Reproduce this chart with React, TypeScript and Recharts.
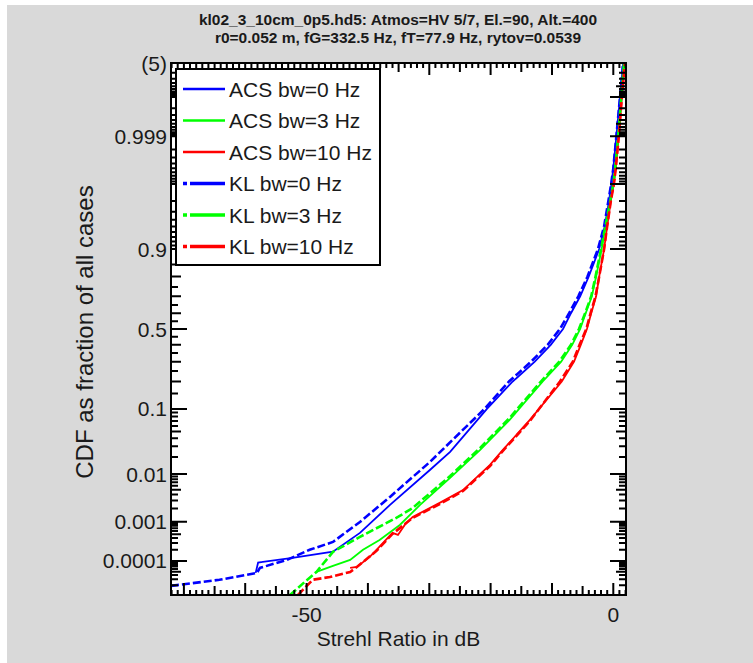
import React from "react";
import { LineChart, Line, XAxis, YAxis } from "recharts";

// Strehl ratio (dB) vs. CDF for every case
const acs0Db = [-58.3, -57.9, -52.3, -45.7, -41.3, -36.4, -29.9, -26.6, -20.6, -16.4, -12.8, -10.2, -8.2, -6.9, -5.4, -4.0, -2.3, -1.4, -0.7, -0.3, 0.0, 0.5, 1.1, 1.6];
const acs0Cdf = [4.6e-5, 9.0e-5, 1.21e-4, 1.78e-4, 5.4e-4, 2.4e-3, 0.0119, 0.0244, 0.1, 0.2, 0.3, 0.4, 0.5, 0.6, 0.7, 0.8, 0.9, 0.95, 0.98, 0.99, 0.995, 0.999, 0.9999, 0.99999];

const acs3Db = [-48.4, -45.7, -42.9, -40.8, -38.1, -34.8, -31.5, -26.6, -21.7, -16.9, -11.5, -8.5, -6.7, -5.4, -4.5, -3.5, -2.8, -1.9, -1.3, -0.5, 0.0, 0.3, 0.8, 1.3, 1.75];
const acs3Cdf = [4.9e-5, 7.3e-5, 1.07e-4, 2.0e-4, 3.6e-4, 8.4e-4, 2.4e-3, 0.0085, 0.0263, 0.0724, 0.2, 0.3, 0.4, 0.5, 0.6, 0.7, 0.8, 0.9, 0.95, 0.98, 0.99, 0.995, 0.999, 0.9999, 0.99999];

const acs10Db = [-42.9, -41.8, -39.7, -38.6, -36.0, -35.1, -34.0, -32.7, -28.3, -24.5, -20.1, -18.0, -13.6, -8.4, -6.4, -5.3, -4.3, -3.6, -2.8, -2.3, -1.5, -1.0, -0.4, 0.1, 0.4, 0.9, 1.4, 1.9];
const acs10Cdf = [6.4e-5, 6.8e-5, 1.29e-4, 2.0e-4, 5.4e-4, 4.8e-4, 8.4e-4, 1.29e-3, 2.65e-3, 4.9e-3, 0.0147, 0.0263, 0.0724, 0.2, 0.3, 0.4, 0.5, 0.6, 0.7, 0.8, 0.9, 0.95, 0.98, 0.99, 0.995, 0.999, 0.9999, 0.99999];

const kl0Db = [-72.1, -64.2, -58.1, -57.6, -53.2, -49.5, -45.7, -41.3, -36.4, -29.9, -21.0, -17.0, -13.4, -10.7, -8.7, -7.2, -5.7, -4.2, -2.5, -1.5, -0.8, -0.35, 0.0, 0.5, 1.1, 1.6];
const kl0Cdf = [1.9e-5, 2.9e-5, 4.6e-5, 6.4e-5, 1.07e-4, 2.0e-4, 3.2e-4, 9.9e-4, 3.55e-3, 0.0165, 0.1, 0.2, 0.3, 0.4, 0.5, 0.6, 0.7, 0.8, 0.9, 0.95, 0.98, 0.99, 0.995, 0.999, 0.9999, 0.99999];

const kl3Db = [-52.7, -50.3, -48.4, -45.7, -41.3, -35.1, -32.7, -26.6, -21.7, -16.9, -11.8, -8.8, -6.9, -5.6, -4.6, -3.6, -2.9, -2.0, -1.3, -0.5, 0.0, 0.3, 0.8, 1.3, 1.75];
const kl3Cdf = [1.0e-5, 2.5e-5, 4.9e-5, 1.76e-4, 4.3e-4, 1.29e-3, 2.06e-3, 0.0092, 0.0283, 0.077, 0.2, 0.3, 0.4, 0.5, 0.6, 0.7, 0.8, 0.9, 0.95, 0.98, 0.99, 0.995, 0.999, 0.9999, 0.99999];

const kl10Db = [-51.4, -50.6, -49.0, -46.2, -42.9, -41.8, -38.6, -36.0, -32.7, -28.3, -24.5, -20.1, -18.0, -13.6, -8.7, -6.6, -5.5, -4.4, -3.7, -2.9, -2.3, -1.5, -1.0, -0.4, 0.1, 0.4, 0.9, 1.4, 1.9];
const kl10Cdf = [1.0e-5, 1.44e-5, 2.9e-5, 3.5e-5, 4.9e-5, 6.8e-5, 1.87e-4, 5.1e-4, 1.23e-3, 2.5e-3, 4.7e-3, 0.014, 0.0253, 0.0702, 0.2, 0.3, 0.4, 0.5, 0.6, 0.7, 0.8, 0.9, 0.95, 0.98, 0.99, 0.995, 0.999, 0.9999, 0.99999];

const seriesNames = ["ACS bw=0 Hz", "ACS bw=3 Hz", "ACS bw=10 Hz", "KL bw=0 Hz", "KL bw=3 Hz", "KL bw=10 Hz"];
const seriesColors = ["#0000ff", "#00ff00", "#ff0000", "#0000ff", "#00ff00", "#ff0000"];
const seriesDashed = [false, false, false, true, true, true];

const yLabelProbs = [0.0001, 0.001, 0.01, 0.1, 0.5, 0.9, 0.999, 0.99999];
const yLabelText = ["0.0001", "0.001", "0.01", "0.1", "0.5", "0.9", "0.999", "(5)"];
const xLabelVals = [-50, 0];
const xLabelText = ["-50", "0"];

const titleLines = [
  "kl02_3_10cm_0p5.hd5: Atmos=HV 5/7, El.=90, Alt.=400",
  "r0=0.052 m, fG=332.5 Hz, fT=77.9 Hz, rytov=0.0539",
];
const xTitle = "Strehl Ratio in dB";
const yTitle = "CDF as fraction of all cases";

const FONT = "'Liberation Sans', Arial, Helvetica, sans-serif";

// inverse normal CDF (Acklam) -> probability axis
function probit(p: number): number {
  const a = [-39.69683028665376, 220.9460984245205, -275.9285104469687, 138.357751867269, -30.66479806614716, 2.506628277459239];
  const b = [-54.47609879822406, 161.5858368580409, -155.6989798598866, 66.80131188771972, -13.28068155288572];
  const c = [-0.007784894002430293, -0.3223964580411365, -2.400758277161838, -2.549671010229528, 4.374664141464968, 2.938163982698783];
  const d = [0.007784695709041462, 0.3224671290700398, 2.445134137142996, 3.754408661907416];
  const pl = 0.02425;
  if (p < pl) {
    const q = Math.sqrt(-2 * Math.log(p));
    return (((((c[0] * q + c[1]) * q + c[2]) * q + c[3]) * q + c[4]) * q + c[5]) / ((((d[0] * q + d[1]) * q + d[2]) * q + d[3]) * q + 1);
  }
  if (p <= 1 - pl) {
    const q = p - 0.5;
    const r = q * q;
    return ((((((a[0] * r + a[1]) * r + a[2]) * r + a[3]) * r + a[4]) * r + a[5]) * q) / (((((b[0] * r + b[1]) * r + b[2]) * r + b[3]) * r + b[4]) * r + 1);
  }
  const q = Math.sqrt(-2 * Math.log(1 - p));
  return -(((((c[0] * q + c[1]) * q + c[2]) * q + c[3]) * q + c[4]) * q + c[5]) / ((((d[0] * q + d[1]) * q + d[2]) * q + d[3]) * q + 1);
}

const build = (db: number[], cdf: number[]) => db.map((x, i) => ({ x, z: probit(cdf[i]) }));
const seriesData = [
  build(acs0Db, acs0Cdf),
  build(acs3Db, acs3Cdf),
  build(acs10Db, acs10Cdf),
  build(kl0Db, kl0Cdf),
  build(kl3Db, kl3Cdf),
  build(kl10Db, kl10Cdf),
];

// probability-axis ticks
type YT = { z: number; len: number; label?: string };
const yTicksList: YT[] = [];
const addY = (p: number, len: number) => {
  const li = yLabelProbs.findIndex((v) => Math.abs(v - p) < p * 1e-6 + 1e-12);
  yTicksList.push({ z: probit(p), len, label: li >= 0 ? yLabelText[li] : undefined });
};
[1e-5, 1e-4, 1e-3, 1e-2].forEach((dec) => {
  for (let k = 1; k <= 9; k++) {
    const len = k === 1 ? 16 : k === 5 ? 10 : 7;
    addY(k * dec, len);
    addY(1 - k * dec, len);
  }
});
[0.1, 0.15, 0.2, 0.25, 0.3, 0.35, 0.4, 0.45].forEach((p) => {
  const len = p === 0.1 ? 16 : [0.2, 0.3, 0.4].includes(p) ? 10 : 7;
  addY(p, len);
  addY(1 - p, len);
});
addY(0.5, 16);
yTicksList.sort((u, v) => u.z - v.z);
const yLabelTicks = yTicksList.filter((t) => t.label).map((t) => t.z);
const Z_MIN = probit(1e-5);
const Z_MAX = probit(0.99999);
const X_MIN = -72.1;
const X_MAX = 2.07;

const xTickVals: number[] = [];
for (let v = -72; v <= 2; v++) xTickVals.push(v);
const xLen = (v: number) => (v % 10 === 0 ? 12 : v % 5 === 0 ? 9 : 5);

const W = 746;
const H = 658;
const PL = 164;
const PT = 58;
const PR = 619;
const PB = 590;
const AXL = 100;
const AXB = 52;

// same linear maps as the chart's axes (used for the inward tick marks)
const px = (v: number) => PL + ((v - X_MIN) / (X_MAX - X_MIN)) * (PR - PL);
const py = (z: number) => PB - ((z - Z_MIN) / (Z_MAX - Z_MIN)) * (PB - PT);

const findY = (z: number) => yTicksList.reduce((best, t) => (Math.abs(t.z - z) < Math.abs(best.z - z) ? t : best), yTicksList[0]);

const LeftLabel = (props: any) => {
  const { x, y, payload } = props;
  const t = findY(payload.value);
  return (
    <text x={x - 4} y={y} textAnchor="end" dominantBaseline="central" fontSize={21} fontFamily={FONT} fill="#1a1a1a">
      {t.label}
    </text>
  );
};

const BottomLabel = (props: any) => {
  const { x, y, payload } = props;
  const li = xLabelVals.indexOf(Math.round(payload.value));
  return (
    <text x={x} y={y + 27} textAnchor="middle" fontSize={21} fontFamily={FONT} fill="#1a1a1a">
      {li >= 0 ? xLabelText[li] : ""}
    </text>
  );
};

const tickPath = (() => {
  let d = "";
  yTicksList.forEach((t) => {
    const y = py(t.z).toFixed(1);
    d += `M${PL} ${y}H${PL + t.len}M${PR} ${y}H${PR - t.len}`;
  });
  xTickVals.forEach((v) => {
    const x = px(v).toFixed(1);
    d += `M${x} ${PB}V${PB - xLen(v)}M${x} ${PT}V${PT + xLen(v)}`;
  });
  return d;
})();

const TickMarks = () => (
  <svg width={W} height={H} style={{ position: "absolute", left: 0, top: 0, pointerEvents: "none" }}>
    <path d={tickPath} fill="none" stroke="#000" strokeWidth={2} />
    <rect x={PL} y={PT} width={PR - PL} height={PB - PT} fill="none" stroke="#000" strokeWidth={2} />
  </svg>
);

export default function App() {
  return (
    <div style={{ position: "fixed", left: 7, top: 5, width: W, height: H, background: "#d9d9d9", fontFamily: FONT, color: "#1a1a1a" }}>
      <div
        style={{
          position: "absolute",
          left: 91,
          top: 6,
          width: 600,
          textAlign: "center",
          fontWeight: "bold",
          fontSize: 15.5,
          lineHeight: "17.5px",
        }}
      >
        {titleLines.map((t) => (
          <div key={t}>{t}</div>
        ))}
      </div>
      <div style={{ position: "absolute", left: PL, top: PT, width: PR - PL, height: PB - PT, background: "#fff" }} />
      <div
        style={{
          position: "absolute",
          left: 78 - 200,
          top: 327 - 14,
          width: 400,
          height: 28,
          lineHeight: "28px",
          fontSize: 24,
          textAlign: "center",
          transform: "rotate(-90deg)",
          whiteSpace: "nowrap",
        }}
      >
        {yTitle}
      </div>
      <div
        style={{
          position: "absolute",
          left: (PL + PR) / 2 - 200,
          top: 622,
          width: 400,
          fontSize: 21,
          lineHeight: "24px",
          textAlign: "center",
        }}
      >
        {xTitle}
      </div>
      <div style={{ position: "absolute", left: 0, top: 0 }}>
        <LineChart width={W} height={H} margin={{ top: PT, left: PL - AXL, right: W - PR, bottom: H - PB - AXB }}>
          <XAxis
            dataKey="x"
            type="number"
            domain={[X_MIN, X_MAX]}
            allowDataOverflow
            ticks={xLabelVals}
            interval={0}
            height={AXB}
            tickLine={false}
            tickSize={0}
            tickMargin={0}
            stroke="#000"
            strokeWidth={2}
            tick={<BottomLabel />}
          />
          <YAxis
            type="number"
            dataKey="z"
            domain={[Z_MIN, Z_MAX]}
            allowDataOverflow
            ticks={yLabelTicks}
            interval={0}
            width={AXL}
            tickLine={false}
            tickSize={0}
            tickMargin={0}
            stroke="#000"
            strokeWidth={2}
            tick={<LeftLabel />}
          />
          {seriesData.map((data, i) => (
            <Line
              key={seriesNames[i]}
              data={data}
              dataKey="z"
              type="linear"
              stroke={seriesColors[i]}
              strokeWidth={seriesDashed[i] ? 2.6 : 1.8}
              strokeDasharray={seriesDashed[i] ? "8 3" : undefined}
              dot={false}
              activeDot={false}
              isAnimationActive={false}
            />
          ))}
        </LineChart>
      </div>
      <TickMarks />
      <div
        style={{
          position: "absolute",
          left: 168,
          top: 63,
          width: 206,
          height: 198,
          boxSizing: "border-box",
          border: "2px solid #000",
          background: "#fff",
        }}
      >
        <svg width={202} height={194} style={{ position: "absolute", left: 0, top: 0 }}>
          {seriesNames.map((name, i) => {
            const cy = 19 + i * 31.5;
            return (
              <g key={name}>
                <line
                  x1={6}
                  x2={48}
                  y1={cy}
                  y2={cy}
                  stroke={seriesColors[i]}
                  strokeWidth={seriesDashed[i] ? 3.5 : 2.5}
                  strokeDasharray={seriesDashed[i] ? "4 3 40" : undefined}
                />
                <text x={52} y={cy} dominantBaseline="central" fontSize={21} fontFamily={FONT} fill="#1a1a1a">
                  {name}
                </text>
              </g>
            );
          })}
        </svg>
      </div>
    </div>
  );
}
